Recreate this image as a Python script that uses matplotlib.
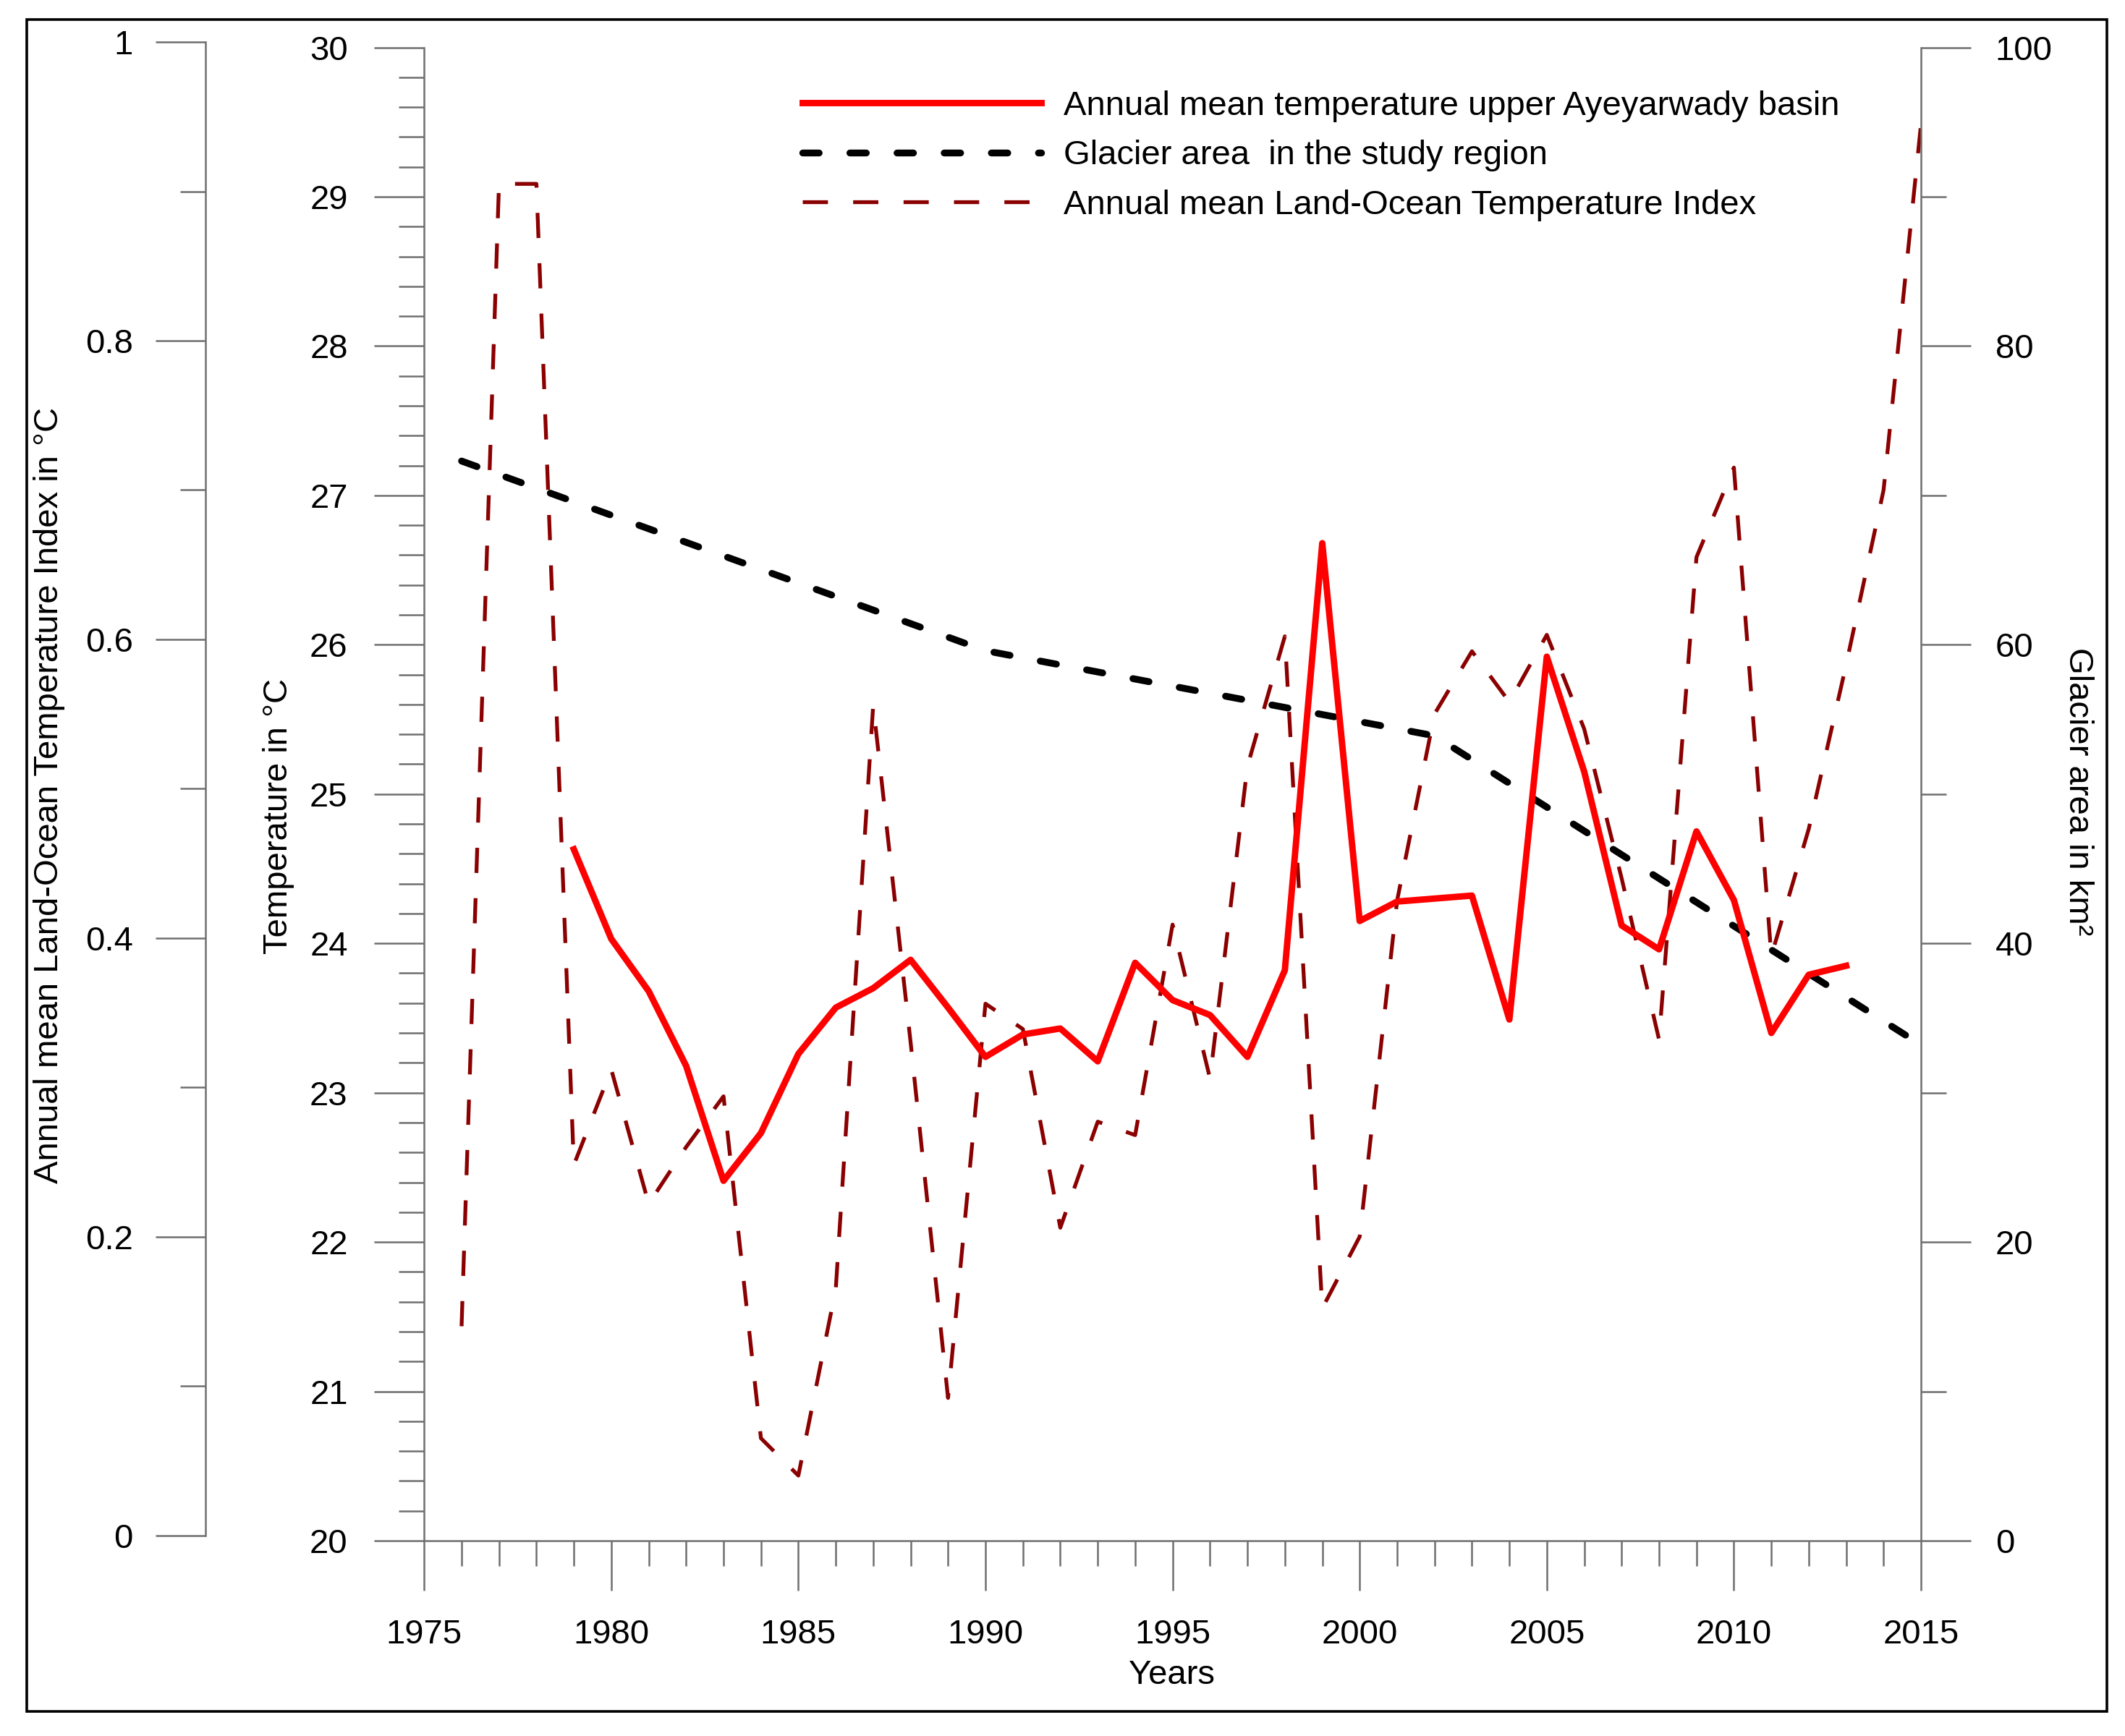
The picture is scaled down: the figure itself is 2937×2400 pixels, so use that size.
import matplotlib
matplotlib.use("Agg")
import matplotlib.pyplot as plt
from matplotlib.ticker import MultipleLocator
from matplotlib.patches import Rectangle

plt.rcParams['font.family'] = ['Liberation Sans', 'DejaVu Sans']

# annual mean temperature, upper Ayeyarwady basin (degC)
temp_years = list(range(1979, 2014))
temp_vals = [24.63, 24.03, 23.68, 23.18, 22.41, 22.73, 23.26, 23.57, 23.70, 23.89,
             23.57, 23.24, 23.39, 23.43, 23.21, 23.87, 23.62, 23.52, 23.24, 23.82,
             26.68, 24.15, 24.28, 24.30, 24.32, 23.49, 25.92, 25.15, 24.12, 23.96,
             24.75, 24.29, 23.40, 23.79, 23.85]

# glacier area in the study region (km2)
glacier_years = [1976, 1990, 2002, 2015]
glacier_vals = [72.3, 59.6, 53.9, 33.2]

# annual mean land-ocean temperature index (degC)
loti_years = list(range(1976, 2016))
loti_vals = [0.140, 0.905, 0.905, 0.248, 0.312, 0.222, 0.260, 0.294, 0.065, 0.040,
             0.165, 0.556, 0.330, 0.092, 0.356, 0.339, 0.206, 0.277, 0.268, 0.409,
             0.306, 0.515, 0.602, 0.152, 0.200, 0.425, 0.550, 0.592, 0.558, 0.603,
             0.540, 0.440, 0.332, 0.655, 0.715, 0.388, 0.473, 0.583, 0.700, 0.945]

spine_col = '#6f6f6f'
fs = 17

fig = plt.figure(figsize=(14.685, 12), dpi=200)
ax_loti = fig.add_axes([0.1996, 0.1156, 0.7044, 0.8602])
ax = fig.add_axes([0.1996, 0.1125, 0.7044, 0.8602])
ax_gl = ax.twinx()

ax_loti.set_zorder(1)
ax_gl.set_zorder(2)
ax.set_zorder(3)
for a in (ax_loti, ax, ax_gl):
    a.patch.set_visible(False)
    a.set_xlim(1975, 2015)
    for s in a.spines.values():
        s.set_visible(False)
        s.set_color(spine_col)
        s.set_linewidth(0.9)

# LOTI axis (far left)
l_loti, = ax_loti.plot(loti_years, loti_vals, color='#8b0000', lw=1.9,
                       dashes=(6.6, 6.6), label='Annual mean Land-Ocean Temperature Index')
ax_loti.set_ylim(0, 1)
ax_loti.spines['left'].set_visible(True)
ax_loti.spines['left'].set_position(('axes', (0.0966 - 0.1996) / 0.7044))
ax_loti.yaxis.set_minor_locator(MultipleLocator(0.1))
ax_loti.set_yticks([0, 0.2, 0.4, 0.6, 0.8, 1])
ax_loti.set_yticklabels(['0', '0.2', '0.4', '0.6', '0.8', '1'])
ax_loti.tick_params(axis='y', which='major', direction='out', length=25, width=0.9,
                    color=spine_col, labelsize=fs, pad=11)
ax_loti.tick_params(axis='y', which='minor', direction='out', length=12.5, width=0.9,
                    color=spine_col)
ax_loti.tick_params(axis='x', which='both', bottom=False, labelbottom=False)

# temperature axis
l_temp, = ax.plot(temp_years, temp_vals, color='#ff0000', lw=3.2,
                  label='Annual mean temperature upper Ayeyarwady basin')
ax.set_ylim(20, 30)
ax.spines['left'].set_visible(True)
ax.spines['bottom'].set_visible(True)
ax.yaxis.set_major_locator(MultipleLocator(1))
ax.yaxis.set_minor_locator(MultipleLocator(0.2))
ax.xaxis.set_major_locator(MultipleLocator(5))
ax.xaxis.set_minor_locator(MultipleLocator(1))
ax.tick_params(axis='y', which='major', direction='out', length=25, width=0.9,
               color=spine_col, labelsize=fs, pad=13)
ax.tick_params(axis='y', which='minor', direction='out', length=12.5, width=0.9,
               color=spine_col)
ax.tick_params(axis='x', which='major', direction='out', length=25, width=0.9,
               color=spine_col, labelsize=fs, pad=14)
ax.tick_params(axis='x', which='minor', direction='out', length=12.5, width=0.9,
               color=spine_col)

# glacier axis (right)
l_gl, = ax_gl.plot(glacier_years, glacier_vals, color='black', lw=3.4,
                   dashes=(2.4, 4.5), dash_capstyle='round',
                   label='Glacier area  in the study region')
ax_gl.set_ylim(0, 100)
ax_gl.spines['right'].set_visible(True)
ax_gl.yaxis.set_major_locator(MultipleLocator(20))
ax_gl.yaxis.set_minor_locator(MultipleLocator(10))
ax_gl.tick_params(axis='y', which='major', direction='out', length=25, width=0.9,
                  color=spine_col, labelsize=fs, pad=12)
ax_gl.tick_params(axis='y', which='minor', direction='out', length=12.5, width=0.9,
                  color=spine_col)
ax_gl.tick_params(axis='x', which='both', bottom=False, labelbottom=False, top=False)

# axis titles
fig.text(0.023, 0.542, 'Annual mean Land-Ocean Temperature Index in \u00b0C',
         rotation=90, ha='center', va='center', fontsize=fs)
fig.text(0.131, 0.53, 'Temperature in \u00b0C', rotation=90, ha='center',
         va='center', fontsize=fs)
fig.text(0.978, 0.544, 'Glacier area in km\u00b2', rotation=-90, ha='center',
         va='center', fontsize=fs)
fig.text(0.5515, 0.035, 'Years', ha='center', va='center', fontsize=fs)

fig.legend(handles=[l_temp, l_gl, l_loti], loc='upper left',
           bbox_to_anchor=(0.3775, 0.948), frameon=False, fontsize=fs,
           handlelength=7.0, handletextpad=0.65, labelspacing=0.52,
           borderpad=0, borderaxespad=0)

# outer frame
fig.patches.append(Rectangle((0.0126, 0.0142), 0.9789, 0.9745, transform=fig.transFigure,
                             fill=False, edgecolor='black', lw=1.3))

fig.savefig('out.png', dpi=200)
